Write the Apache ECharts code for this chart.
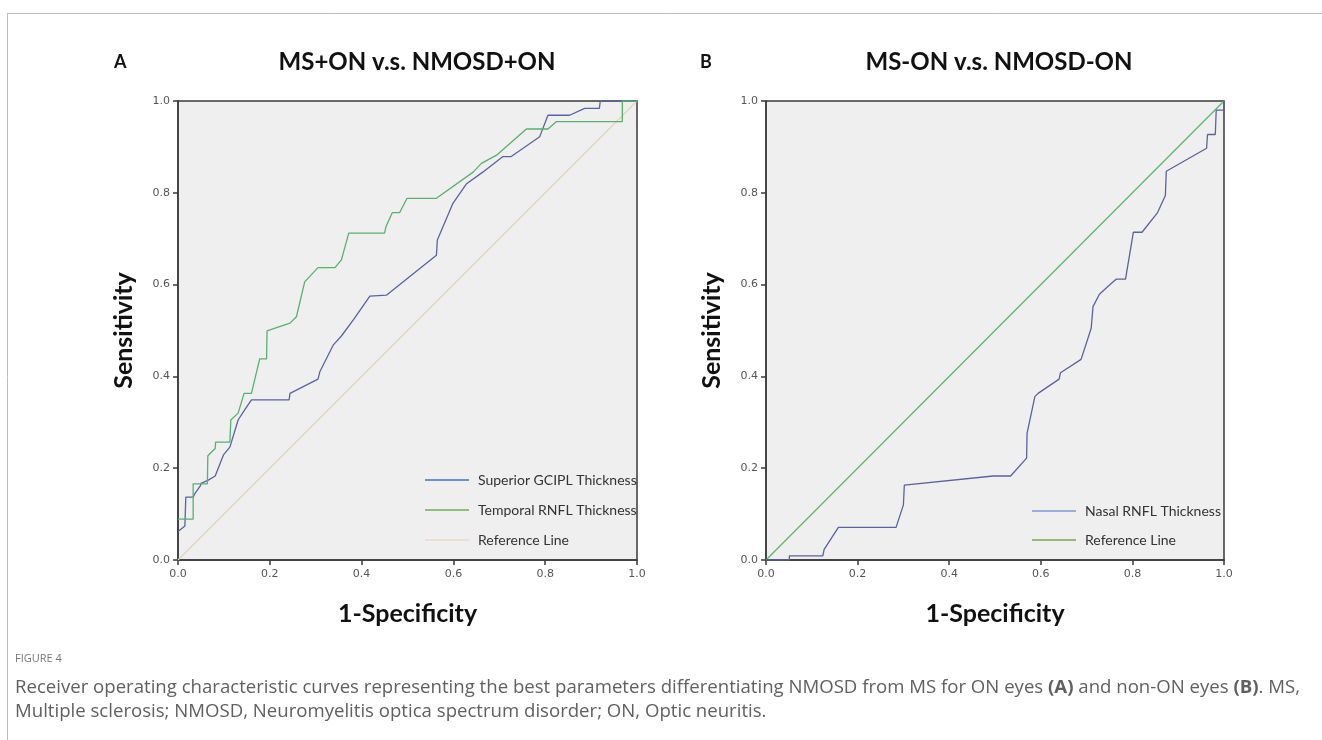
<!DOCTYPE html>
<html>
<head>
<meta charset="utf-8">
<script src="https://cdn.jsdelivr.net/npm/echarts@6/dist/echarts.min.js"></script>
<style>
html,body{margin:0;padding:0;background:#fff;}
#chart{width:1322px;height:740px;}
</style>
</head>
<body>
<div id="chart"></div>
<script>
// ---------- data ----------
const axisTicks = [0, 0.2, 0.4, 0.6, 0.8, 1.0];

// Panel A: MS+ON vs NMOSD+ON
const gciplX = [0,0.015,0.017,0.033,0.037,0.049,0.05,0.066,0.081,0.099,0.113,0.131,0.146,0.160,0.242,0.244,0.305,0.309,0.338,0.356,0.382,0.418,0.454,0.563,0.565,0.599,0.628,0.664,0.708,0.726,0.788,0.791,0.806,0.853,0.886,0.918,0.920,1.0];
const gciplY = [0.062,0.074,0.137,0.137,0.145,0.162,0.167,0.174,0.183,0.229,0.246,0.305,0.328,0.349,0.349,0.363,0.394,0.410,0.468,0.488,0.523,0.575,0.577,0.664,0.697,0.777,0.819,0.845,0.879,0.879,0.922,0.930,0.969,0.969,0.984,0.984,1.0,1.0];

const temporalX = [0,0.033,0.033,0.064,0.065,0.081,0.082,0.113,0.115,0.131,0.144,0.160,0.178,0.193,0.194,0.244,0.258,0.276,0.305,0.342,0.356,0.372,0.450,0.453,0.467,0.483,0.499,0.563,0.643,0.661,0.694,0.759,0.806,0.824,0.968,0.968,1.0];
const temporalY = [0.089,0.089,0.166,0.166,0.227,0.243,0.257,0.257,0.305,0.320,0.363,0.363,0.438,0.438,0.499,0.516,0.530,0.606,0.637,0.637,0.654,0.712,0.712,0.726,0.757,0.757,0.788,0.788,0.845,0.864,0.882,0.939,0.939,0.955,0.955,1.0,1.0];

// Panel B: MS-ON vs NMOSD-ON
const nasalX = [0,0.051,0.051,0.124,0.127,0.158,0.284,0.300,0.302,0.496,0.534,0.569,0.570,0.587,0.594,0.640,0.643,0.688,0.710,0.714,0.728,0.750,0.765,0.785,0.802,0.821,0.855,0.872,0.874,0.962,0.964,0.981,0.983,1.0,1.0];
const nasalY = [0,0,0.009,0.009,0.023,0.071,0.071,0.120,0.163,0.183,0.183,0.222,0.276,0.356,0.363,0.394,0.408,0.437,0.505,0.552,0.579,0.599,0.612,0.612,0.714,0.714,0.757,0.794,0.847,0.897,0.927,0.927,0.980,0.980,1.0];

const refX = [0, 1];
const refY = [0, 1];

const seriesNamesA = ['Superior GCIPL Thickness', 'Temporal RNFL Thickness', 'Reference Line'];
const seriesNamesB = ['Nasal RNFL Thickness', 'Reference Line'];
const panelTitles = ['MS+ON v.s. NMOSD+ON', 'MS-ON v.s. NMOSD-ON'];
const panelLetters = ['A', 'B'];
const xTitle = '1-Specificity';
const yTitle = 'Sensitivity';

// ---------- helpers ----------
const zip = (xs, ys) => xs.map((x, i) => [x, ys[i]]);

function makeX(gi) {
  return {
    gridIndex: gi, type: 'value', min: 0, max: 1, interval: 0.2,
    name: xTitle, nameLocation: 'middle', nameGap: 41,
    nameTextStyle: {fontFamily: 'Lato', fontWeight: 'bold', fontSize: 25, color: '#111'},
    axisLine: {show: true, lineStyle: {color: '#3a3a3a', width: 1.5}},
    axisTick: {show: true, inside: false, length: 5, lineStyle: {color: '#3a3a3a', width: 1.5}},
    axisLabel: {margin: 9, fontFamily: 'DejaVu Sans', fontSize: 11, color: '#555',
      formatter: v => v.toFixed(1)},
    splitLine: {show: false}
  };
}
function makeY(gi) {
  return {
    gridIndex: gi, type: 'value', min: 0, max: 1, interval: 0.2,
    name: yTitle, nameLocation: 'middle', nameGap: 42, nameRotate: 90,
    nameTextStyle: {fontFamily: 'Lato', fontWeight: 'bold', fontSize: 25, color: '#111'},
    axisLine: {show: true, lineStyle: {color: '#3a3a3a', width: 1.5}},
    axisTick: {show: true, inside: false, length: 5, lineStyle: {color: '#3a3a3a', width: 1.5}},
    axisLabel: {margin: 8, fontFamily: 'DejaVu Sans', fontSize: 11, color: '#555',
      formatter: v => v.toFixed(1)},
    splitLine: {show: false}
  };
}
function lineSeries(name, gi, data, color, width) {
  return {
    type: 'line', name: name, xAxisIndex: gi, yAxisIndex: gi,
    data: data, showSymbol: false, symbol: 'none', animation: false,
    lineStyle: {color: color, width: width}, itemStyle: {color: color},
    emphasis: {disabled: true}, z: 3
  };
}
function legendItem(name, color, left, top) {
  return {
    left: left, top: top, orient: 'vertical', selectedMode: false,
    icon: 'rect', itemWidth: 44, itemHeight: 1.5,
    data: [{name: name, itemStyle: {color: color}}],
    textStyle: {fontFamily: 'Lato', fontSize: 14, color: '#333', padding: [0, 0, 0, 4]}
  };
}

const option = {
  backgroundColor: '#ffffff',
  animation: false,
  title: [
    {text: panelLetters[0], left: 109, top: 48, textStyle: {fontFamily: 'Lato', fontWeight: 'bold', fontSize: 18, color: '#111'}},
    {text: panelTitles[0], left: 412, top: 45, textAlign: 'center', textStyle: {fontFamily: 'Lato', fontWeight: 'bold', fontSize: 24, color: '#111'}},
    {text: panelLetters[1], left: 695, top: 48, textStyle: {fontFamily: 'Lato', fontWeight: 'bold', fontSize: 18, color: '#111'}},
    {text: panelTitles[1], left: 994, top: 45, textAlign: 'center', textStyle: {fontFamily: 'Lato', fontWeight: 'bold', fontSize: 24, color: '#111'}}
  ],
  grid: [
    {left: 178, top: 101, width: 459, height: 459, show: true, backgroundColor: '#efefef', borderColor: '#3a3a3a', borderWidth: 1.5},
    {left: 766, top: 101, width: 458, height: 459, show: true, backgroundColor: '#efefef', borderColor: '#3a3a3a', borderWidth: 1.5}
  ],
  xAxis: [makeX(0), makeX(1)],
  yAxis: [makeY(0), makeY(1)],
  legend: [
    legendItem(seriesNamesA[0], '#3f6fd8', 420, 468),
    legendItem(seriesNamesA[1], '#6db052', 420, 498),
    legendItem(seriesNamesA[2], '#e4dcc2', 420, 528),
    legendItem(seriesNamesB[0], '#7c9ad8', 1027, 499),
    legendItem(seriesNamesB[1], '#6aad4f', 1027, 528)
  ],
  series: [
    lineSeries(seriesNamesA[2], 0, zip(refX, refY), '#ddd8bb', 1.2),
    lineSeries(seriesNamesA[0], 0, zip(gciplX, gciplY), '#5a62a6', 1.3),
    lineSeries(seriesNamesA[1], 0, zip(temporalX, temporalY), '#55b36a', 1.3),
    lineSeries(seriesNamesB[1], 1, zip(refX, refY), '#5cb86a', 1.3),
    lineSeries(seriesNamesB[0], 1, zip(nasalX, nasalY), '#5c61a0', 1.3)
  ],
  graphic: [
    {type: 'line', shape: {x1: 7, y1: 13.5, x2: 1322, y2: 13.5}, style: {stroke: '#bdbdbd', lineWidth: 1}},
    {type: 'line', shape: {x1: 7.5, y1: 13, x2: 7.5, y2: 740}, style: {stroke: '#bdbdbd', lineWidth: 1}},
    {type: 'text', left: 15, top: 653, style: {text: 'FIGURE 4', font: '11px "Open Sans"', fill: '#777'}},
    {type: 'text', left: 15, top: 675, style: {
      text: 'Receiver operating characteristic curves representing the best parameters differentiating NMOSD from MS for ON eyes {b|(A)} and non-ON eyes {b|(B)}. MS,\nMultiple sclerosis; NMOSD, Neuromyelitis optica spectrum disorder; ON, Optic neuritis.',
      font: '18.6px "Open Sans"', fill: '#606060', lineHeight: 24.5,
      rich: {b: {font: 'bold 18.6px "Open Sans"', fill: '#606060', lineHeight: 24.5}}
    }}
  ]
};

const chart = echarts.init(document.getElementById('chart'), null, {renderer: 'canvas'});
chart.setOption(option);
</script>
</body>
</html>
